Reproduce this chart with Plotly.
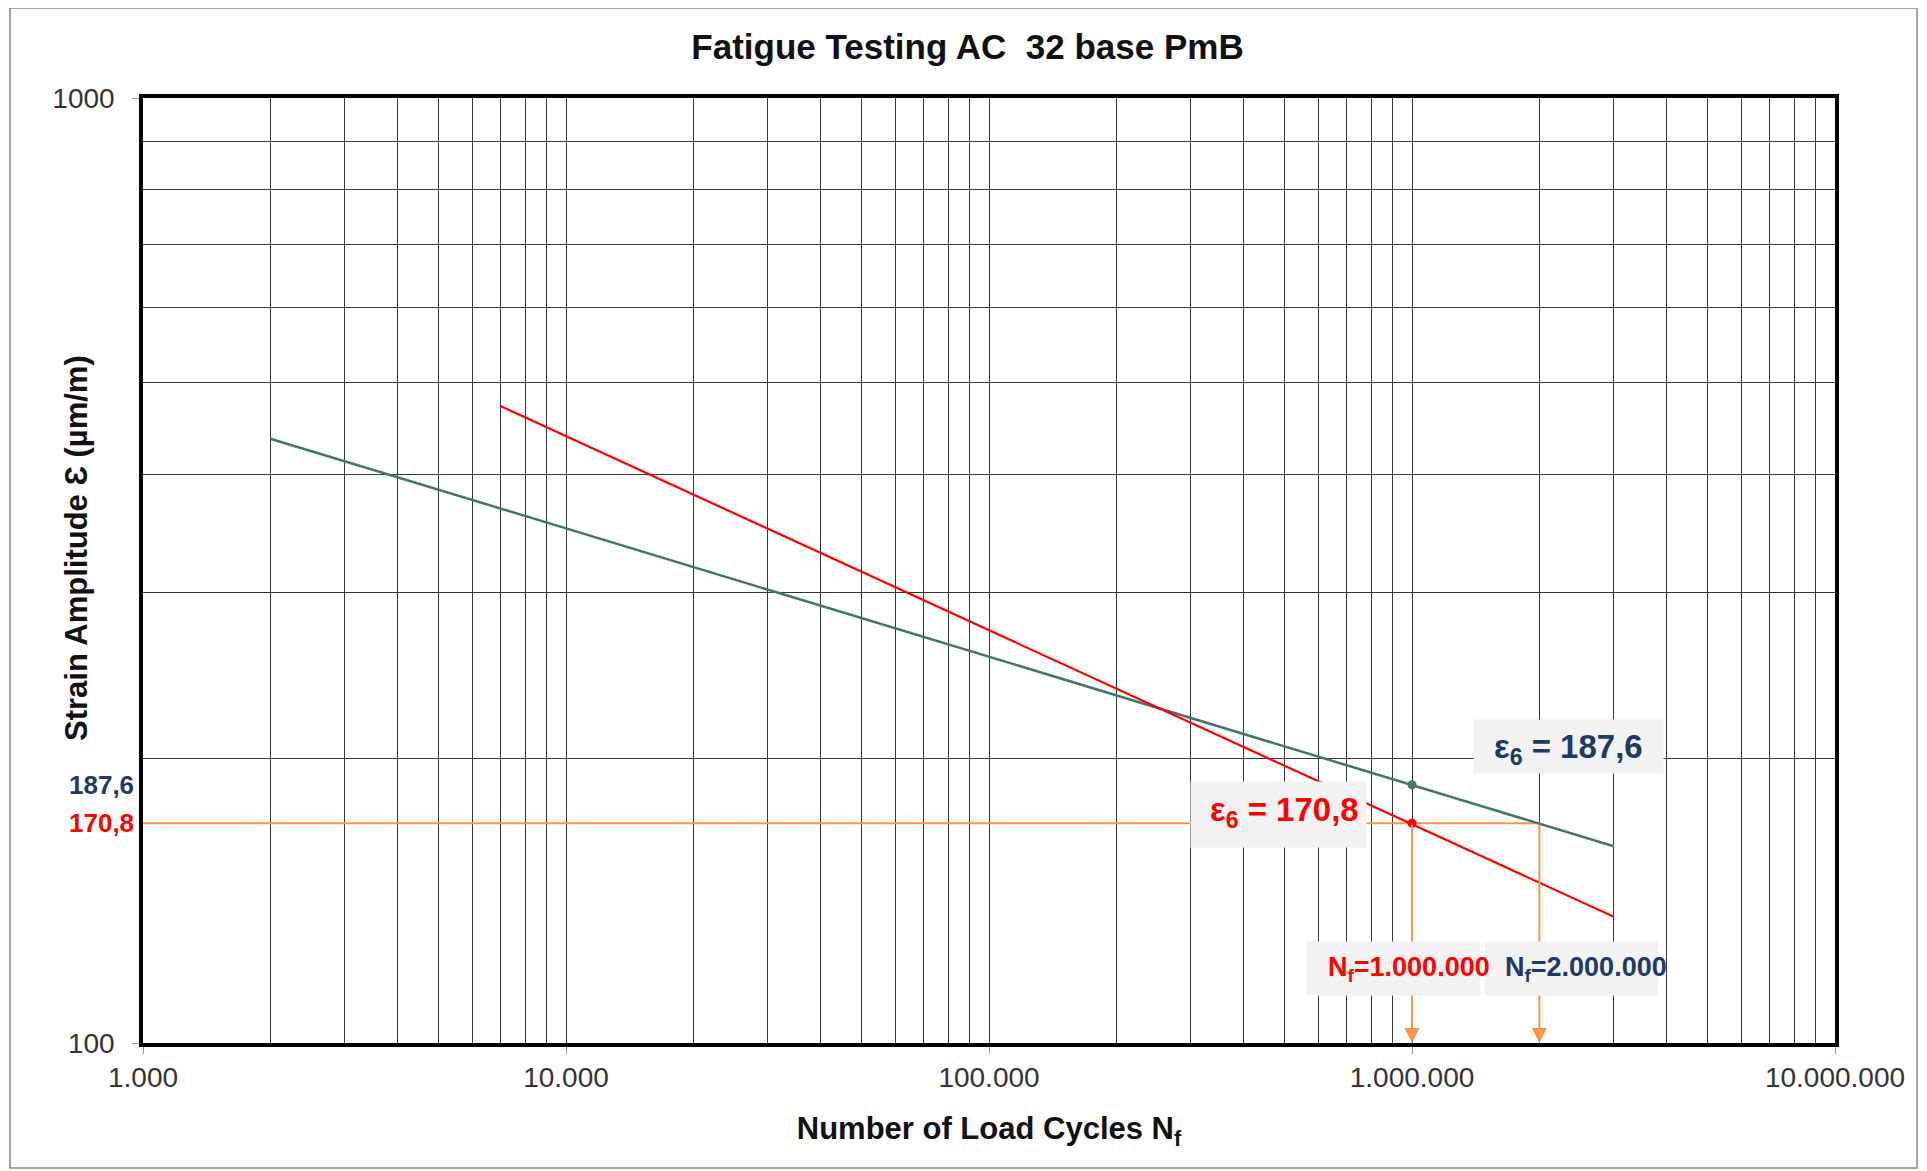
import math
import plotly.graph_objects as go

# ---------------- data ----------------
x_tick_vals = [1e3, 1e4, 1e5, 1e6, 1e7]
x_tick_text = ["1.000", "10.000", "100.000", "1.000.000", "10.000.000"]
y_tick_vals = [100, 1000]
y_tick_text = ["100", "1000"]

green_N = [2000, 3000000]
green_eps = [436, 161.5]
red_N = [7000, 3000000]
red_eps = [472, 136]

eps6_green = 187.6
eps6_red = 170.8
N_1 = 1_000_000
N_2 = 2_000_000

# ---------------- style ----------------
FONT = "Liberation Sans, Arial, sans-serif"
GREEN = "#457568"
RED = "#ff0000"
NAVY = "#1f3864"
ORANGE = "#f79646"
BOXBG = "#f2f2f2"
GRID = "#363636"

W, H = 1919, 1163
ML, MR, MT, MB = 135, 92, 90, 128
pw = W - ML - MR
ph = H - MT - MB


def px(fx):  # figure pixel x -> paper x
    return (fx - ML) / pw


def py(fy):  # figure pixel y (from top) -> paper y
    return (H - MB - fy) / ph


lg = math.log10

fig = go.Figure()

fig.add_trace(go.Scatter(x=[x_tick_vals[0], N_2], y=[eps6_red, eps6_red], mode="lines",
                         line=dict(color=ORANGE, width=2), hoverinfo="skip", showlegend=False))
fig.add_trace(go.Scatter(x=green_N, y=green_eps, mode="lines",
                         line=dict(color=GREEN, width=2.5), showlegend=False))
fig.add_trace(go.Scatter(x=red_N, y=red_eps, mode="lines",
                         line=dict(color=RED, width=2.2), showlegend=False))
fig.add_trace(go.Scatter(x=[N_1], y=[eps6_green], mode="markers",
                         marker=dict(color=GREEN, size=9), showlegend=False))
fig.add_trace(go.Scatter(x=[N_1], y=[eps6_red], mode="markers",
                         marker=dict(color=RED, size=9), showlegend=False))

minor_x = [m * 10 ** d for d in range(3, 7) for m in range(2, 10)]
minor_y = [m * 100 for m in range(2, 10)]

annotations = []
# vertical arrows (drawn first so label boxes sit on top)
for n in (N_1, N_2):
    annotations.append(dict(x=lg(n), y=lg(y_tick_vals[0]), xref="x", yref="y",
                            ax=lg(n), ay=lg(eps6_red), axref="x", ayref="y",
                            text="", showarrow=True, arrowhead=2, arrowsize=1.5,
                            arrowwidth=2, arrowcolor=ORANGE))

# label boxes
annotations += [
    dict(x=6.369, y=2.3139, xref="x", yref="y", showarrow=False, text=" ",
         bgcolor=BOXBG, width=187, height=51),
    dict(x=5.684, y=2.2415, xref="x", yref="y", showarrow=False, text=" ",
         bgcolor=BOXBG, width=173, height=63),
    dict(x=5.957, y=2.0787, xref="x", yref="y", showarrow=False, text=" ",
         bgcolor=BOXBG, width=171, height=51),
    dict(x=6.377, y=2.0787, xref="x", yref="y", showarrow=False, text=" ",
         bgcolor=BOXBG, width=171, height=51),
]
# label texts
annotations += [
    dict(x=6.369, y=2.3139, xref="x", yref="y", showarrow=False, yshift=-3,
         text="<b>ε<sub>6</sub> = 187,6</b>", font=dict(family=FONT, size=33, color=NAVY)),
    dict(x=5.684, y=2.2415, xref="x", yref="y", showarrow=False, xshift=6, yshift=3,
         text="<b>ε<sub>6</sub> = 170,8</b>", font=dict(family=FONT, size=33, color=RED)),
    dict(x=5.957, y=2.0787, xref="x", yref="y", showarrow=False, xshift=15,
         text="<b>N<sub>f</sub>=1.000.000</b>", font=dict(family=FONT, size=27, color=RED)),
    dict(x=6.377, y=2.0787, xref="x", yref="y", showarrow=False, xshift=15,
         text="<b>N<sub>f</sub>=2.000.000</b>", font=dict(family=FONT, size=27, color=NAVY)),
    # coloured y labels
    dict(x=0, y=lg(eps6_green), xref="paper", yref="y", xanchor="right", showarrow=False,
         xshift=-7, text="<b>187,6</b>", font=dict(family=FONT, size=26, color=NAVY)),
    dict(x=0, y=lg(eps6_red), xref="paper", yref="y", xanchor="right", showarrow=False,
         xshift=-7, text="<b>170,8</b>", font=dict(family=FONT, size=26, color=RED)),
    # y axis title
    dict(x=px(68), y=py(540), xref="paper", yref="paper", showarrow=False, textangle=-90,
         xanchor="center", yanchor="middle",
         text="<b>Strain Amplitude Ɛ (µm/m)</b>", font=dict(family=FONT, size=31, color="#111111")),
]

shapes = [dict(type="rect", xref="paper", yref="paper",
               x0=px(2), x1=px(1909), y0=py(1160), y1=py(0),
               line=dict(color="#8c8c8c", width=1.5), fillcolor="rgba(0,0,0,0)", layer="below")]

fig.update_layout(
    width=W, height=H,
    margin=dict(l=ML, r=MR, t=MT, b=MB),
    paper_bgcolor="white", plot_bgcolor="white",
    font=dict(family=FONT, color="#333333"),
    title=dict(text="<b>Fatigue Testing AC \u00a032 base PmB</b>", x=0.5, xref="container",
               y=1 - 39 / H, yref="container", yanchor="middle", xanchor="center",
               font=dict(family=FONT, size=35, color="#111111")),
    annotations=annotations,
    shapes=shapes,
    showlegend=False,
)

fig.update_xaxes(type="log", range=[3, 7], tickvals=x_tick_vals, ticktext=x_tick_text,
                 tickfont=dict(family=FONT, size=28, color="#333333"),
                 showgrid=True, gridcolor=GRID, gridwidth=1,
                 minor=dict(tickvals=minor_x, showgrid=True, gridcolor=GRID, gridwidth=1, ticks=""),
                 showline=True, linecolor="black", linewidth=3.5, mirror=True,
                 ticks="outside", ticklen=7, tickcolor="#999999", zeroline=False,
                 title=dict(text="<b>Number of Load Cycles N<sub>f</sub></b>", standoff=26,
                            font=dict(family=FONT, size=31, color="#111111")))
fig.update_yaxes(type="log", range=[2, 3], tickvals=y_tick_vals, ticktext=y_tick_text,
                 tickfont=dict(family=FONT, size=28, color="#333333"),
                 ticklabelstandoff=12,
                 showgrid=True, gridcolor=GRID, gridwidth=1,
                 minor=dict(tickvals=minor_y, showgrid=True, gridcolor=GRID, gridwidth=1, ticks=""),
                 showline=True, linecolor="black", linewidth=3.5, mirror=True,
                 ticks="outside", ticklen=7, tickcolor="#999999", zeroline=False)

fig.write_html("out.html")
